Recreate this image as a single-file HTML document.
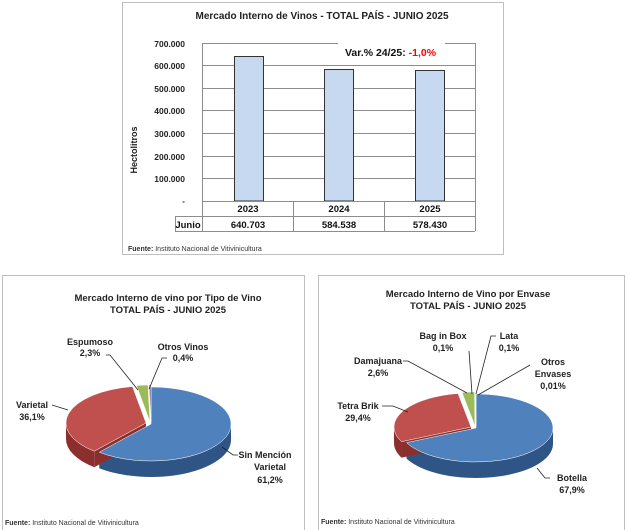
<!DOCTYPE html>
<html><head><meta charset="utf-8"><style>
body{margin:0;background:#fff;}
svg{display:block;font-family:"Liberation Sans",sans-serif;}
.b{font-weight:bold;}
</style></head><body>
<svg id="s" width="628" height="530" viewBox="0 0 628 530">
<rect x="0" y="0" width="628" height="530" fill="#fff"/>
<rect x="122.5" y="2.5" width="381" height="252" fill="#fff" stroke="#bfbfbf"/>
<text x="322" y="19" font-size="10" class="b" text-anchor="middle" fill="#222">Mercado Interno de Vinos  - TOTAL PAÍS  - JUNIO 2025</text>
<g stroke="#8c8c8c" stroke-width="1">
<line x1="202" y1="43.5" x2="338" y2="43.5"/><line x1="445" y1="43.5" x2="475" y2="43.5"/>
<line x1="202" y1="65.5" x2="475" y2="65.5"/>
<line x1="202" y1="88.5" x2="475" y2="88.5"/>
<line x1="202" y1="110.5" x2="475" y2="110.5"/>
<line x1="202" y1="133.5" x2="475" y2="133.5"/>
<line x1="202" y1="156.5" x2="475" y2="156.5"/>
<line x1="202" y1="178.5" x2="475" y2="178.5"/>
<line x1="202.5" y1="43" x2="202.5" y2="231"/>
<line x1="475.5" y1="43" x2="475.5" y2="231"/>
</g>
<g font-size="8.5" class="b" text-anchor="end" fill="#222">
<text x="185" y="47">700.000</text><text x="185" y="69">600.000</text><text x="185" y="92">500.000</text>
<text x="185" y="114">400.000</text><text x="185" y="137">300.000</text><text x="185" y="160">200.000</text>
<text x="185" y="182">100.000</text><text x="185" y="204">-</text>
</g>
<text transform="translate(137,150) rotate(-90)" font-size="9" class="b" text-anchor="middle" fill="#222">Hectolitros</text>
<g fill="#c6d9f1" stroke="#333" stroke-width="1">
<rect x="234.5" y="56.5" width="29" height="144.5"/>
<rect x="324.5" y="69.5" width="29" height="131.5"/>
<rect x="415.5" y="70.5" width="29" height="130.5"/>
</g>
<text x="345" y="56" font-size="10.5" class="b" fill="#111">Var.% 24/25: <tspan fill="#ff0000">-1,0%</tspan></text>
<g stroke="#8c8c8c" fill="none">
<line x1="202" y1="201.5" x2="475" y2="201.5"/>
<line x1="175" y1="216.5" x2="475" y2="216.5"/>
<line x1="175" y1="231.5" x2="475" y2="231.5"/>
<line x1="175.5" y1="216" x2="175.5" y2="231"/>
<line x1="293.5" y1="201" x2="293.5" y2="231"/>
<line x1="384.5" y1="201" x2="384.5" y2="231"/>
</g>
<g font-size="9.5" class="b" text-anchor="middle" fill="#111">
<text x="248" y="212">2023</text><text x="339" y="212">2024</text><text x="430" y="212">2025</text>
<text x="188" y="228">Junio</text>
<text x="248" y="228">640.703</text><text x="339" y="228">584.538</text><text x="430" y="228">578.430</text>
</g>
<text x="128" y="251" font-size="7" fill="#333"><tspan class="b">Fuente:</tspan> Instituto Nacional de Vitivinicultura</text>

<rect x="2.5" y="275.5" width="302" height="260" fill="#fff" stroke="#bfbfbf"/>
<g font-size="9.5" class="b" text-anchor="middle" fill="#222">
<text x="168" y="301">Mercado Interno de vino por Tipo de Vino</text>
<text x="168" y="313">TOTAL PAÍS - JUNIO 2025</text>
</g>
<g id="pie1"></g>
<g font-size="9" class="b" fill="#222" text-anchor="middle">
<text x="90" y="345">Espumoso</text><text x="90" y="356">2,3%</text>
<text x="183" y="350">Otros Vinos</text><text x="183" y="361">0,4%</text>
<text x="32" y="408">Varietal</text><text x="32" y="420">36,1%</text>
<text x="265" y="458">Sin Mención</text><text x="270" y="470">Varietal</text><text x="270" y="483">61,2%</text>
</g>
<g stroke="#222" stroke-width="0.8" fill="none">
<polyline points="106,355 110,355 138,390"/>
<polyline points="167,358 162,358 149,389"/>
<polyline points="52,405 68,410"/>
<polyline points="238,455 233,455 222,447"/>
</g>
<text x="5" y="525" font-size="7" fill="#333"><tspan class="b">Fuente:</tspan> Instituto Nacional de Vitivinicultura</text>

<rect x="318.5" y="275.5" width="306" height="260" fill="#fff" stroke="#bfbfbf"/>
<g font-size="9.5" class="b" text-anchor="middle" fill="#222">
<text x="468" y="297">Mercado Interno de Vino por Envase</text>
<text x="468" y="309">TOTAL PAÍS - JUNIO 2025</text>
</g>
<g id="pie2"></g>
<g font-size="9" class="b" fill="#222" text-anchor="middle">
<text x="443" y="339">Bag in Box</text><text x="443" y="351">0,1%</text>
<text x="509" y="339">Lata</text><text x="509" y="351">0,1%</text>
<text x="378" y="364">Damajuana</text><text x="378" y="376">2,6%</text>
<text x="553" y="365">Otros</text><text x="553" y="377">Envases</text><text x="553" y="389">0,01%</text>
<text x="358" y="409">Tetra Brik</text><text x="358" y="421">29,4%</text>
<text x="572" y="481">Botella</text><text x="572" y="493">67,9%</text>
</g>
<g stroke="#222" stroke-width="0.8" fill="none">
<polyline points="469,351 472,394"/>
<polyline points="496,336 491,336 476,394"/>
<polyline points="403,361 408,361 467,393"/>
<polyline points="530,365 478,395"/>
<polyline points="382,406 393,406 408,412"/>
<polyline points="550,478 545,478 537,468"/>
</g>
<text x="321" y="524" font-size="7" fill="#333"><tspan class="b">Fuente:</tspan> Instituto Nacional de Vitivinicultura</text>
</svg>
<script>
function pie(gid,cx,cy,rx,ry,d,sl){
 var g=document.getElementById(gid);
 function P(t,ox,oy,dy){var r=t*Math.PI/180;return [(cx+ox+rx*Math.sin(r)).toFixed(2),(cy+oy+dy-ry*Math.cos(r)).toFixed(2)];}
 var a=0,walls='',tops='';
 sl.forEach(function(s){
  var b=a+s.p*3.6,ox=s.ox||0,oy=s.oy||0;
  var s1=Math.max(a,90),e1=Math.min(b,270);
  if(e1>s1){var p1=P(s1,ox,oy,0),p2=P(e1,ox,oy,0),p3=P(e1,ox,oy,d),p4=P(s1,ox,oy,d);
   walls+='<path d="M'+p1+' A'+rx+' '+ry+' 0 '+((e1-s1)>180?1:0)+' 1 '+p2+' L'+p3+' A'+rx+' '+ry+' 0 '+((e1-s1)>180?1:0)+' 0 '+p4+' Z" fill="'+s.s+'"/>';}
  if(a>90&&a<270){var c=[cx+ox,cy+oy],q=P(a,ox,oy,0),q2=P(a,ox,oy,d);
   walls+='<path d="M'+c+' L'+q+' L'+q2+' L'+(cx+ox)+','+(cy+oy+d)+' Z" fill="'+s.s+'"/>';}
  var p1=P(a,ox,oy,0),p2=P(b,ox,oy,0);
  tops+='<path d="M'+(cx+ox)+','+(cy+oy)+' L'+p1+' A'+rx+' '+ry+' 0 '+((b-a)>180?1:0)+' 1 '+p2+' Z" fill="'+s.c+'" stroke="#fff" stroke-width="0.5"/>';
  a=b;});
 g.innerHTML=walls+tops;
}
var B={c:'#4f81bd',s:'#2f5486'},R={c:'#c0504d',s:'#8a2f2d'},G={c:'#9bbb59',s:'#6b8a34'};
pie('pie1',151,424,80,37,16,[
 {p:61.2,c:B.c,s:B.s},{p:36.1,c:R.c,s:R.s,ox:-5,oy:-1},{p:2.3,c:G.c,s:G.s,ox:-1,oy:-2},{p:0.4,c:'#8064a2',s:'#5c4776',ox:0,oy:-2}]);
pie('pie2',476,428,77,34,16,[
 {p:67.9,c:B.c,s:B.s},{p:29.4,c:R.c,s:R.s,ox:-5,oy:-1},{p:2.6,c:G.c,s:G.s,ox:-1,oy:-2},{p:0.1,c:'#8064a2',s:'#5c4776',ox:0,oy:-2}]);
</script>
</body></html>
